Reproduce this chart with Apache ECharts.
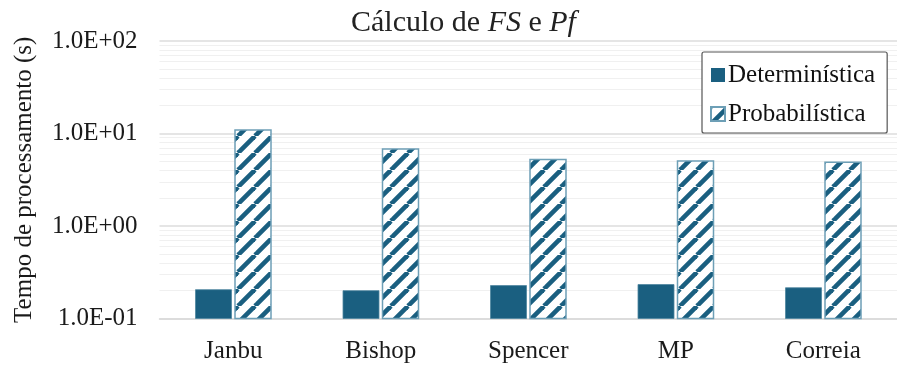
<!DOCTYPE html>
<html>
<head>
<meta charset="utf-8">
<script src="https://cdn.jsdelivr.net/npm/echarts@6/dist/echarts.min.js"></script>
<style>
  html, body { margin: 0; padding: 0; background: #ffffff; }
  #chart { width: 897px; height: 365px; }
</style>
</head>
<body>
<div id="chart"></div>
<script>
// Processing time (s) per method, deterministic vs probabilistic
const categories = ['Janbu', 'Bishop', 'Spencer', 'MP', 'Correia'];
const deterministica = [0.205, 0.200, 0.227, 0.233, 0.215];
const probabilistica = [10.9, 6.8, 5.25, 5.05, 4.9];
const tickLabels = ['1.0E-01', '1.0E+00', '1.0E+01', '1.0E+02'];
const seriesNames = ['Determinística', 'Probabilística'];

const TEAL = '#1a5f80';
const SERIF = '"Liberation Serif", "Times New Roman", serif';
const AXIS_MIN = 0.1;
const BAR_W = 36;
const BAR_GAP = 3.5;

// diagonal hatch tile for the probabilistic bars
function hatchTile() {
  const s = 17;
  const c = document.createElement('canvas');
  c.width = s; c.height = s;
  const g = c.getContext('2d');
  g.fillStyle = '#ffffff';
  g.fillRect(0, 0, s, s);
  g.strokeStyle = TEAL;
  g.lineWidth = 4.6;
  for (let k = -1; k <= 1; k++) {
    g.beginPath();
    g.moveTo(k * s, s);
    g.lineTo(k * s + s, 0);
    g.stroke();
  }
  return c;
}
const hatchFill = { image: hatchTile(), repeat: 'repeat' };

// light minor grid lines at 2..9 of every decade
const minorLines = [];
for (let d = -1; d <= 1; d++) {
  for (let m = 2; m <= 9; m++) minorLines.push({ yAxis: m * Math.pow(10, d) });
}

// bars drawn from the axis floor (0.1) up to the value, via the axis scales
function barRenderer(side, style) {
  return function (params, api) {
    const cat = api.value(0);
    const top = api.coord([cat, api.value(1)]);
    const bottom = api.coord([cat, AXIS_MIN]);
    const x = side < 0 ? top[0] - BAR_GAP / 2 - BAR_W : top[0] + BAR_GAP / 2;
    return {
      type: 'rect',
      shape: { x: x, y: top[1], width: BAR_W, height: bottom[1] - top[1] },
      style: style
    };
  };
}

const chart = echarts.init(document.getElementById('chart'));
chart.setOption({
  animation: false,
  backgroundColor: '#ffffff',
  title: {
    text: '{n|Cálculo de }{i|FS}{n| e }{i|Pf}',
    left: 346,
    top: 3,
    textStyle: {
      fontWeight: 'normal',
      rich: {
        n: { fontFamily: SERIF, fontSize: 30, fontWeight: 'normal', color: '#222222' },
        i: { fontFamily: SERIF, fontSize: 30, fontWeight: 'normal', fontStyle: 'italic', color: '#222222' }
      }
    }
  },
  legend: {
    orient: 'vertical',
    left: 702,
    top: 52,
    padding: [9, 12, 5, 8],
    itemGap: 11,
    itemWidth: 14,
    itemHeight: 14,
    icon: 'rect',
    borderColor: '#555555',
    borderWidth: 1.2,
    borderRadius: 2,
    backgroundColor: '#ffffff',
    textStyle: { fontFamily: SERIF, fontSize: 25, color: '#111111', lineHeight: 28, padding: [0, 0, 0, -2] },
    data: seriesNames
  },
  grid: { left: 159.5, top: 41, width: 752.5, height: 277.5 },
  xAxis: {
    type: 'category',
    data: categories,
    axisLine: { lineStyle: { color: '#d9d9d9', width: 1.5 } },
    axisTick: { show: false },
    axisLabel: { fontFamily: SERIF, fontSize: 25, color: '#1a1a1a', margin: 20 }
  },
  yAxis: {
    type: 'log',
    logBase: 10,
    min: AXIS_MIN,
    max: 100,
    name: 'Tempo de processamento (s)',
    nameLocation: 'middle',
    nameGap: 123,
    nameTextStyle: { fontFamily: SERIF, fontSize: 25, color: '#1a1a1a' },
    axisLine: { show: false },
    axisTick: { show: false },
    axisLabel: {
      fontFamily: SERIF, fontSize: 25, color: '#1a1a1a', margin: 22,
      formatter: function (v) {
        const i = Math.round(Math.log10(v)) + 1;
        return tickLabels[i] || '';
      }
    },
    splitLine: { lineStyle: { color: '#dcdcdc', width: 1.5 } }
  },
  series: [
    {
      name: 'grade',
      type: 'line',
      data: [],
      silent: true,
      markLine: {
        silent: true,
        symbol: 'none',
        z: 1,
        animation: false,
        label: { show: false },
        lineStyle: { color: '#f0f0f0', type: 'solid', width: 1.2 },
        data: minorLines
      }
    },
    {
      name: seriesNames[0],
      type: 'custom',
      z: 3,
      encode: { x: 0, y: 1 },
      data: deterministica.map((v, i) => [i, v]),
      itemStyle: { color: TEAL },
      renderItem: barRenderer(-1, { fill: TEAL, stroke: '#4f86a0', lineWidth: 0.8 })
    },
    {
      name: seriesNames[1],
      type: 'custom',
      z: 3,
      encode: { x: 0, y: 1 },
      data: probabilistica.map((v, i) => [i, v]),
      itemStyle: { color: hatchFill, borderColor: '#6d9fb6', borderWidth: 1.2 },
      renderItem: barRenderer(1, { fill: hatchFill, stroke: '#6d9fb6', lineWidth: 1.5 })
    }
  ]
});
</script>
</body>
</html>
